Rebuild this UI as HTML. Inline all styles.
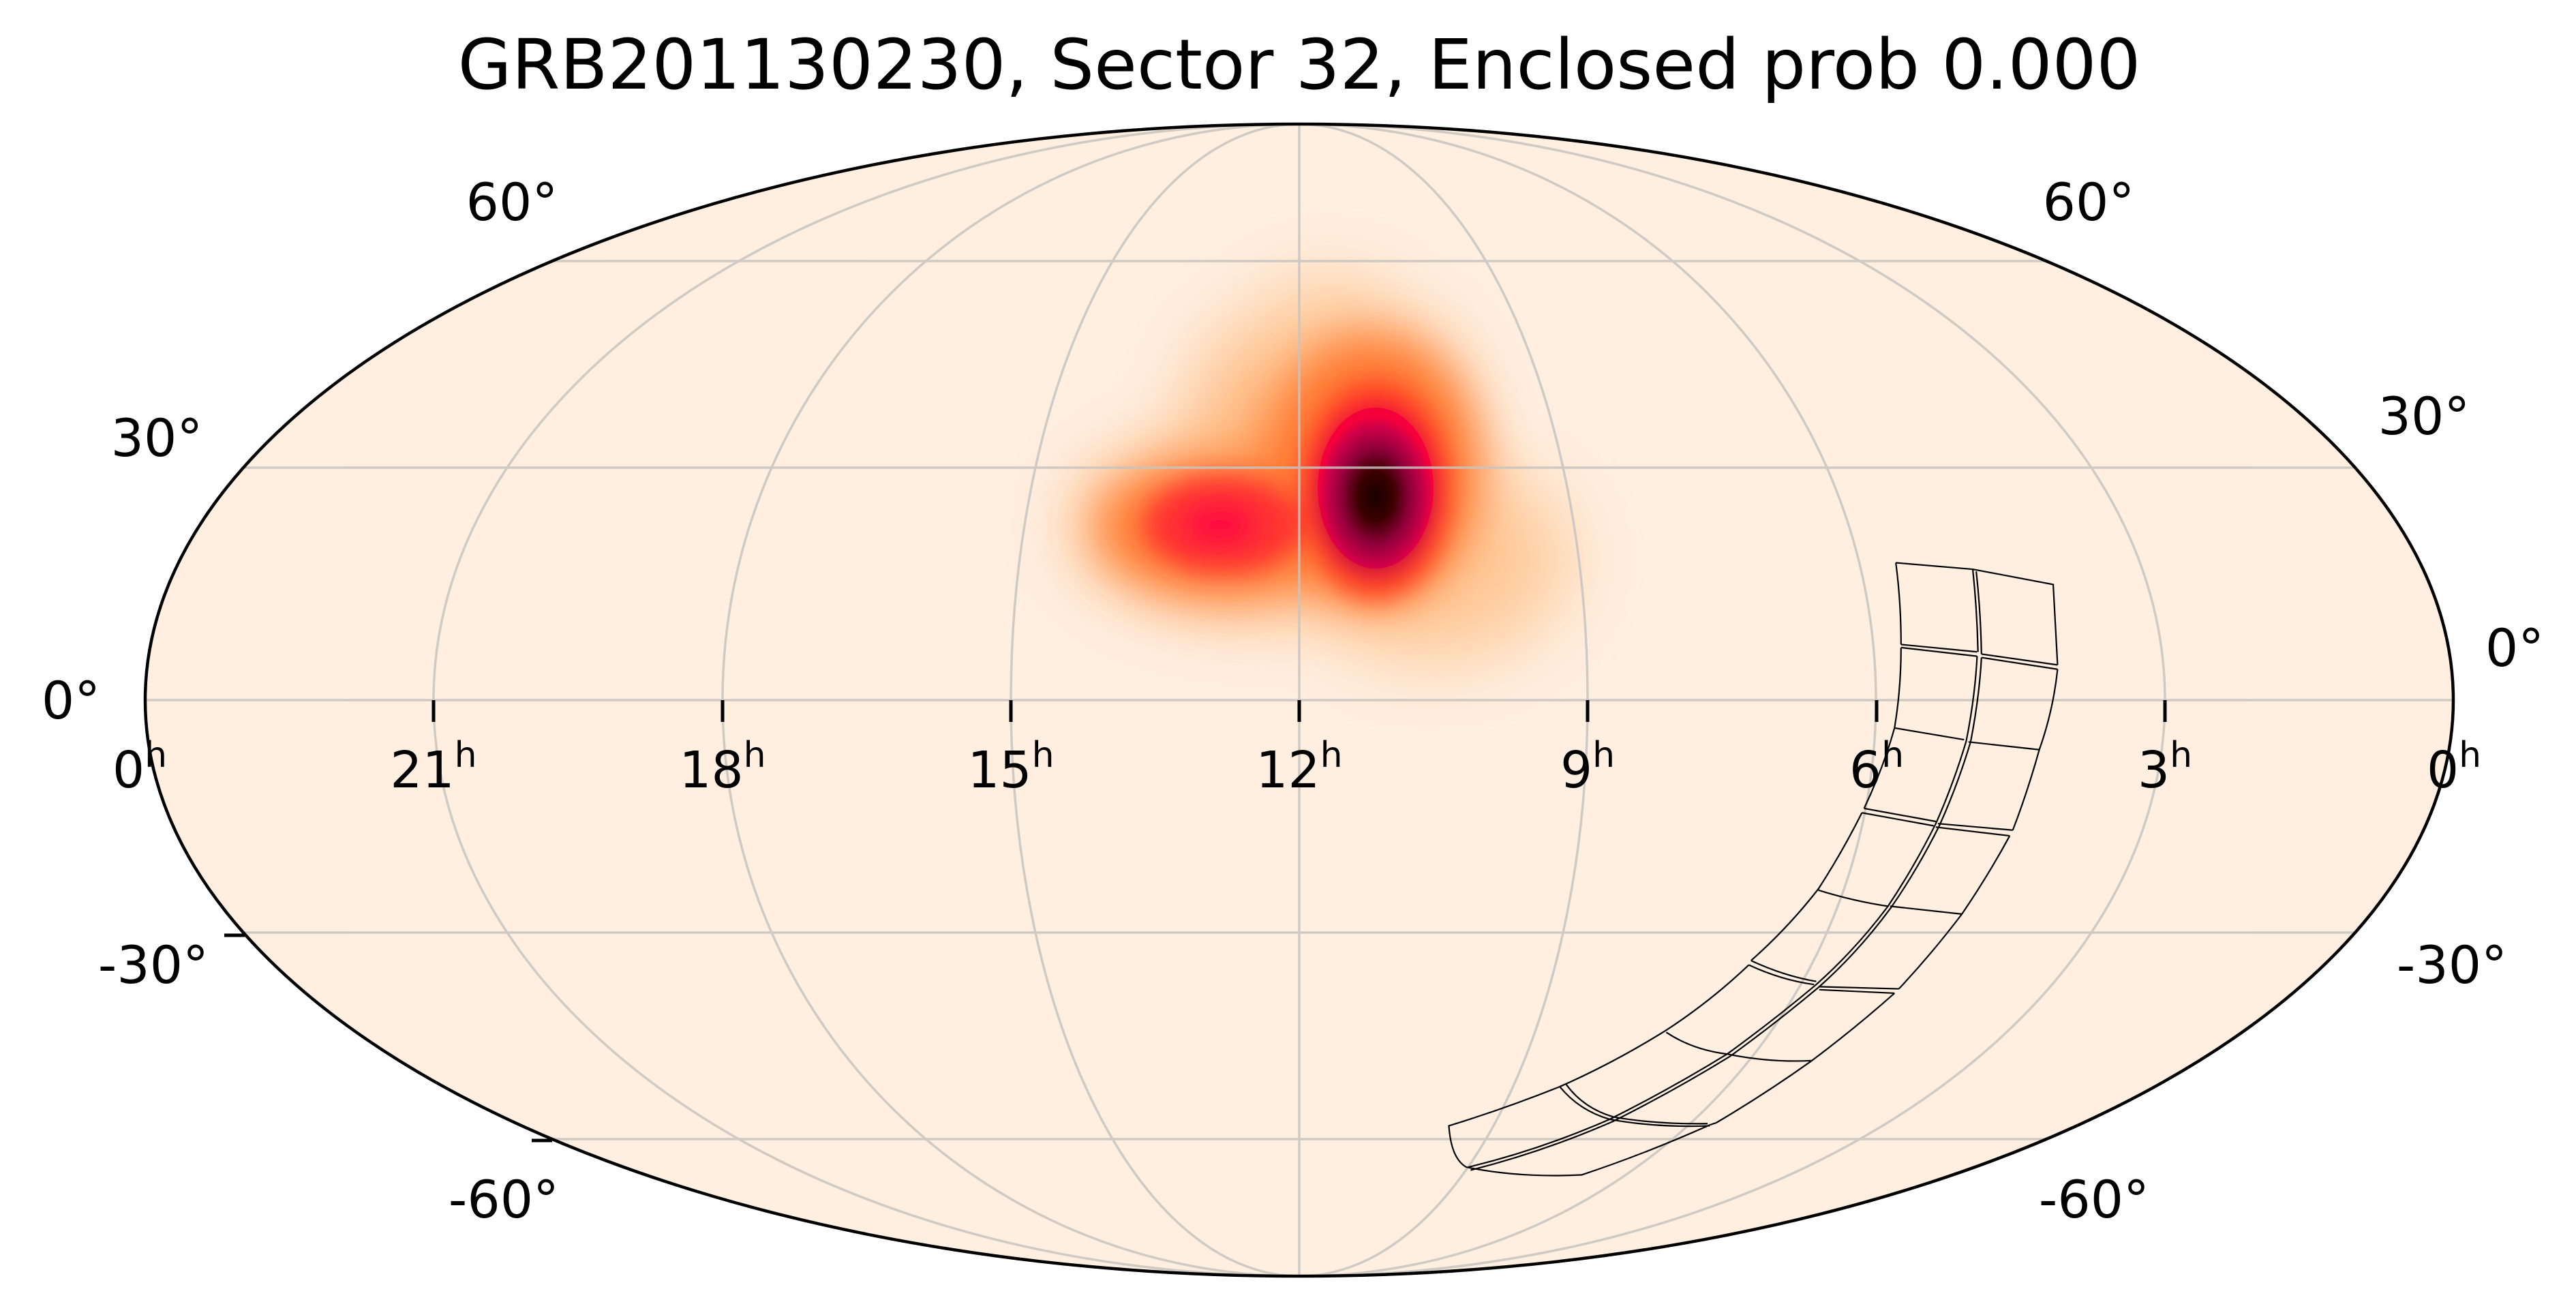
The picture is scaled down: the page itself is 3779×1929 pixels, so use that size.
<!DOCTYPE html>
<html><head><meta charset="utf-8"><style>
html,body{margin:0;padding:0;background:#fff}
svg{display:block}
text{font-family:"DejaVu Sans","Liberation Sans",sans-serif;fill:#000}
</style></head><body>
<svg width="3779" height="1929" viewBox="0 0 3779 1929" xmlns="http://www.w3.org/2000/svg">
<defs>
<clipPath id="cl"><ellipse cx="1906" cy="1027" rx="1693" ry="845"/></clipPath>
<filter id="b1" x="-50%" y="-50%" width="200%" height="200%"><feGaussianBlur stdDeviation="55"/></filter>
<filter id="b2" x="-50%" y="-50%" width="200%" height="200%"><feGaussianBlur stdDeviation="35"/></filter>
<filter id="b3" x="-50%" y="-50%" width="200%" height="200%"><feGaussianBlur stdDeviation="18"/></filter>
<radialGradient id="core" cx="50%" cy="55%" r="50%">
<stop offset="0" stop-color="#1a0000"/><stop offset="0.3" stop-color="#3a0000"/><stop offset="0.6" stop-color="#90003a"/><stop offset="0.85" stop-color="#cc0048"/><stop offset="1" stop-color="#f5003a"/></radialGradient>
</defs>
<ellipse cx="1906" cy="1027" rx="1693" ry="845" fill="#feefe1"/>
<g clip-path="url(#cl)">
 <g filter="url(#b1)" opacity="0.9">
  <ellipse cx="1950" cy="630" rx="200" ry="200" fill="#ffb070"/>
  <ellipse cx="1850" cy="770" rx="270" ry="130" fill="#ffb070"/>
  <ellipse cx="2100" cy="820" rx="200" ry="150" fill="#ffc590"/>
  <ellipse cx="1950" cy="510" rx="120" ry="100" fill="#ffc590"/>
 </g>
 <g filter="url(#b2)">
  <ellipse cx="1800" cy="775" rx="190" ry="100" fill="#ff7a30"/>
  <ellipse cx="2010" cy="690" rx="160" ry="200" fill="#ff7a30"/>
 </g>
 <g filter="url(#b3)">
  <ellipse cx="1795" cy="770" rx="115" ry="70" fill="#ff3030"/>
  <ellipse cx="1790" cy="770" rx="55" ry="35" fill="#ff0a40"/>
  <ellipse cx="2018" cy="718" rx="110" ry="160" fill="#ff4525"/>
 </g>
 <ellipse cx="2018" cy="718" rx="85" ry="122" fill="url(#core)" filter="url(#b3)"/>
 <ellipse cx="2018" cy="716" rx="85" ry="118" fill="url(#core)"/>
 <g fill="none" stroke="#c8c4c0" stroke-width="3.5" opacity="0.85">
  <line x1="213" y1="1027" x2="3599" y2="1027"/>
  <line x1="357" y1="686" x2="3455" y2="686"/>
  <line x1="357" y1="1368" x2="3455" y2="1368"/>
  <line x1="810" y1="383" x2="3002" y2="383"/>
  <line x1="810" y1="1671" x2="3002" y2="1671"/>
  <line x1="1906" y1="182" x2="1906" y2="1872"/>
  <ellipse cx="1906" cy="1027" rx="423" ry="845"/>
  <ellipse cx="1906" cy="1027" rx="846" ry="845"/>
  <ellipse cx="1906" cy="1027" rx="1270" ry="845"/>
 </g>
 <g transform="translate(2100,800) scale(0.6378)" fill="none" stroke="#000" stroke-width="2.2">
  <path vector-effect="non-scaling-stroke" d="M1068,40 L1245,55 L1430,90 L1440,275 M1440,285 Q1430,380 1398,470 Q1370,570 1337,655 M1330,668 Q1280,760 1220,848 Q1150,940 1075,1020 M1065,1030 Q975,1110 875,1185 Q770,1260 655,1328 L640,1333"/>
  <path vector-effect="non-scaling-stroke" d="M1068,40 Q1080,130 1080,228 M1080,235 Q1080,330 1065,420 Q1040,510 995,605 M990,615 Q945,705 890,790 Q820,880 735,955 M730,965 Q640,1050 540,1115 Q420,1190 295,1245 Q170,1295 40,1335 Q45,1410 80,1430 Q200,1455 345,1448 Q490,1400 640,1333"/>
  <path vector-effect="non-scaling-stroke" d="M1245,55 Q1255,150 1257,245 M1255,255 Q1250,350 1230,450 Q1200,550 1160,640 Q1110,740 1050,830 Q975,930 885,1010 Q790,1090 680,1170 Q550,1250 410,1320 Q250,1390 85,1430"/>
  <path vector-effect="non-scaling-stroke" d="M1253,60 Q1263,150 1265,250 M1265,258 Q1260,350 1240,452 Q1210,552 1168,645 Q1118,745 1057,833 Q982,935 892,1015 Q797,1095 687,1175 Q557,1255 417,1325 Q257,1395 90,1437"/>
  <path vector-effect="non-scaling-stroke" d="M1080,228 L1255,245 M1265,250 L1440,275 M1080,235 L1255,255 M1265,258 L1440,285 M1065,420 L1225,447 M1235,452 L1398,470 M995,605 L1160,635 M1165,640 L1337,655 M990,615 L1155,645 M1160,648 L1330,668 M890,793 Q970,818 1050,830 M1055,830 L1220,848 M735,955 Q810,990 885,1003 M890,1015 L1075,1020 M730,965 Q805,1000 880,1010 M892,1022 L1065,1030 M540,1120 Q600,1160 680,1170 Q780,1190 875,1185 M295,1245 Q340,1300 410,1320 Q520,1340 640,1335 M310,1240 Q350,1295 420,1315 Q520,1332 635,1330"/>
 </g>
</g>
<ellipse cx="1906" cy="1027" rx="1693" ry="845" fill="none" stroke="#000" stroke-width="4.5"/>
<g stroke="#000" stroke-width="5">
 <line x1="636" y1="1027" x2="636" y2="1059"/>
 <line x1="1060" y1="1027" x2="1060" y2="1059"/>
 <line x1="1483" y1="1027" x2="1483" y2="1059"/>
 <line x1="1906" y1="1027" x2="1906" y2="1059"/>
 <line x1="2329" y1="1027" x2="2329" y2="1059"/>
 <line x1="2753" y1="1027" x2="2753" y2="1059"/>
 <line x1="3176" y1="1027" x2="3176" y2="1059"/>
 <line x1="329" y1="1372" x2="359" y2="1372"/>
 <line x1="780" y1="1673" x2="810" y2="1673"/>
</g>
<text x="1906" y="130" font-size="102" text-anchor="middle">GRB201130230, Sector 32, Enclosed prob 0.000</text>
<g font-size="74" text-anchor="middle">
 <text x="205" y="1155">0<tspan font-size="52" dy="-30">h</tspan></text>
 <text x="636" y="1155">21<tspan font-size="52" dy="-30">h</tspan></text>
 <text x="1060" y="1155">18<tspan font-size="52" dy="-30">h</tspan></text>
 <text x="1483" y="1155">15<tspan font-size="52" dy="-30">h</tspan></text>
 <text x="1906" y="1155">12<tspan font-size="52" dy="-30">h</tspan></text>
 <text x="2329" y="1155">9<tspan font-size="52" dy="-30">h</tspan></text>
 <text x="2753" y="1155">6<tspan font-size="52" dy="-30">h</tspan></text>
 <text x="3176" y="1155">3<tspan font-size="52" dy="-30">h</tspan></text>
 <text x="3600" y="1155">0<tspan font-size="52" dy="-30">h</tspan></text>
</g>
<g font-size="76" text-anchor="middle">
 <text x="751" y="323">60°</text>
 <text x="230" y="669">30°</text>
 <text x="104" y="1054">0°</text>
 <text x="225" y="1442">-30°</text>
 <text x="739" y="1786">-60°</text>
 <text x="3064" y="323">60°</text>
 <text x="3556" y="637">30°</text>
 <text x="3689" y="977">0°</text>
 <text x="3597" y="1442">-30°</text>
 <text x="3072" y="1786">-60°</text>
</g>
</svg>
</body></html>
